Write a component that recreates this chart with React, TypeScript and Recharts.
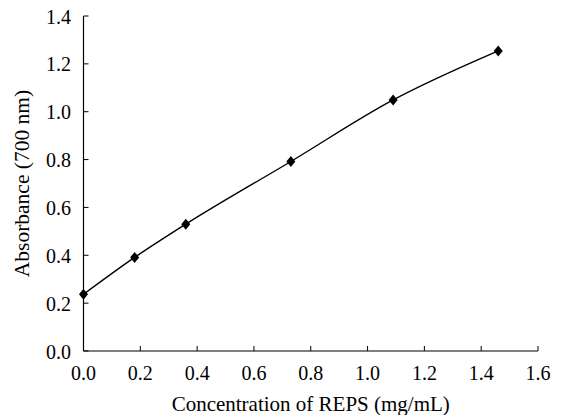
import { LineChart, Line, XAxis, YAxis, Label } from 'recharts'

// concentration (mg/mL) vs absorbance at 700 nm
const concentration = [0, 0.18, 0.36, 0.73, 1.09, 1.46]
const absorbance = [0.237, 0.391, 0.53, 0.792, 1.049, 1.254]
const xTicks = [0, 0.2, 0.4, 0.6, 0.8, 1.0, 1.2, 1.4, 1.6]
const yTicks = [0, 0.2, 0.4, 0.6, 0.8, 1.0, 1.2, 1.4]

const rows = concentration.map((c, i) => ({ c, a: absorbance[i] }))
const font = '"Liberation Serif", "Times New Roman", serif'

const XTick = ({ x, y, payload }: any) => (
  <g>
    <line x1={x} y1={y} x2={x} y2={y - 5} stroke="#000" strokeWidth={1} />
    <text x={x} y={y + 29.3} textAnchor="middle" fontSize={20} fontFamily={font} fill="#000">
      {Number(payload.value).toFixed(1)}
    </text>
  </g>
)

const YTick = ({ x, y, payload }: any) => (
  <g>
    <line x1={x} y1={y} x2={x + 5} y2={y} stroke="#000" strokeWidth={1} />
    <text x={x - 12.5} y={y + 7.5} textAnchor="end" fontSize={20} fontFamily={font} fill="#000">
      {Number(payload.value).toFixed(1)}
    </text>
  </g>
)

const Diamond = ({ cx, cy }: any) => (
  <polygon
    points={`${cx},${cy - 5.5} ${cx + 4.5},${cy} ${cx},${cy + 5.5} ${cx - 4.5},${cy}`}
    fill="#000"
  />
)

export default function App() {
  return (
    <div style={{ position: 'absolute', left: 0, top: 0 }}>
      <LineChart width={561} height={415} data={rows} margin={{ top: 16, right: 23, left: 0, bottom: 0 }}>
        <XAxis
          dataKey="c"
          type="number"
          domain={[0, 1.6]}
          ticks={xTicks}
          height={64}
          tickSize={0}
          tickMargin={0}
          tickLine={false}
          tick={<XTick />}
          axisLine={{ stroke: '#000', strokeWidth: 1.2 }}
          interval={0}
        >
          <Label
            content={({ viewBox }: any) => (
              <text
                x={viewBox.x + viewBox.width / 2}
                y={viewBox.y + 59.5}
                textAnchor="middle"
                fontSize={21}
                fontFamily={font}
                fill="#000"
              >
                Concentration of REPS (mg/mL)
              </text>
            )}
          />
        </XAxis>
        <YAxis
          type="number"
          domain={[0, 1.4]}
          ticks={yTicks}
          width={83.5}
          tickSize={0}
          tickMargin={0}
          tickLine={false}
          tick={<YTick />}
          axisLine={{ stroke: '#000', strokeWidth: 1.2 }}
          interval={0}
        >
          <Label
            content={({ viewBox }: any) => {
              const cy = viewBox.y + viewBox.height / 2
              return (
                <text
                  x={29.3}
                  y={cy}
                  transform={`rotate(-90 29.3 ${cy})`}
                  textAnchor="middle"
                  fontSize={21.5}
                  fontFamily={font}
                  fill="#000"
                >
                  Absorbance (700 nm)
                </text>
              )
            }}
          />
        </YAxis>
        <Line
          dataKey="a"
          type="monotone"
          stroke="#000"
          strokeWidth={1.4}
          dot={<Diamond />}
          activeDot={false}
          isAnimationActive={false}
        />
      </LineChart>
    </div>
  )
}
